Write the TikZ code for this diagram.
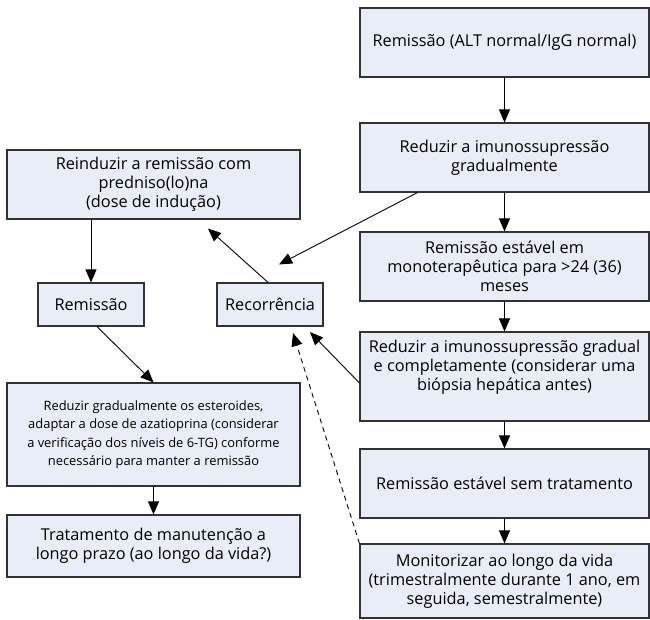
\documentclass[tikz,border=0pt]{standalone}
\usepackage{fontspec}
\setmainfont{Open Sans}
\usetikzlibrary{arrows.meta}
\definecolor{boxfill}{RGB}{233,237,248}
\definecolor{boxline}{RGB}{50,50,50}
\tikzset{
  x=1pt, y=-1pt,
  box/.style={draw=boxline, line width=1.1pt, fill=boxfill, align=center, inner sep=2pt,
    font=\fontsize{16.3}{18.8}\selectfont},
  smallbox/.style={box, font=\fontsize{12.9}{18.3}\selectfont},
  arr/.style={draw=black, line width=0.9pt, -{Triangle[length=13pt,width=11pt]}},
  darr/.style={arr, dashed, dash pattern=on 5pt off 4pt}
}
\begin{document}
\begin{tikzpicture}
\useasboundingbox (0,0) rectangle (650,619);
% right column
\node[box, minimum width=289pt, minimum height=69pt] (b1) at (504.5,42.5) {Remissão (ALT normal/IgG normal)};
\node[box, minimum width=289pt, minimum height=69pt] (b2) at (504.5,157.5) {Reduzir a imunossupressão\\gradualmente};
\node[box, minimum width=289pt, minimum height=69pt] (b3) at (504.5,266.5) {Remissão estável em\\monoterapêutica para >24 (36)\\meses};
\node[box, minimum width=289pt, minimum height=89pt] (b4) at (504.5,376.5) {Reduzir a imunossupressão gradual\\e completamente (considerar uma\\biópsia hepática antes)\\[4pt]};
\node[box, minimum width=289pt, minimum height=69pt] (b5) at (504.5,483.5) {Remissão estável sem tratamento};
\node[box, minimum width=289pt, minimum height=74pt] (b6) at (504.5,581) {Monitorizar ao longo da vida\\(trimestralmente durante 1 ano, em\\seguida, semestralmente)};
% left column
\node[box, minimum width=293pt, minimum height=69pt] (re) at (153.5,184.5) {Reinduzir a remissão com\\predniso(lo)na\\(dose de indução)};
\node[box, minimum width=106pt, minimum height=43pt] (rem) at (91,304.5) {Remissão};
\node[box, minimum width=106pt, minimum height=43pt] (rec) at (270,304.5) {Recorrência};
\node[smallbox, minimum width=293pt, minimum height=103pt] (st) at (153.5,434.5) {Reduzir gradualmente os esteroides,\\adaptar a dose de azatioprina (considerar\\a verificação dos níveis de 6-TG) conforme\\necessário para manter a remissão};
\node[box, minimum width=293pt, minimum height=62pt] (tr) at (153.5,546) {Tratamento de manutenção a\\longo prazo (ao longo da vida?)};
% connectors
\draw[arr] (b1) -- (b2);
\draw[arr] (b2) -- (b3);
\draw[arr] (b3) -- (b4);
\draw[arr] (b4) -- (b5);
\draw[arr] (b5) -- (b6);
\draw[arr] (re.south -| rem.north) -- (rem.north);
\draw[arr] ([xshift=6pt]rem.south) -- (st.north);
\draw[arr] (st) -- (tr);
\draw[arr] ([xshift=-2pt]rec.north) -- ([xshift=54.5pt,yshift=-9pt]re.south);
\draw[arr] ([xshift=58pt]b2.south west) -- ([xshift=9pt,yshift=18pt]rec.north);
\draw[arr] ([yshift=-6.5pt]b4.west) -- ([xshift=40pt,yshift=-5.5pt]rec.south);
\draw[darr] (b6.north west) -- ([xshift=23pt,yshift=-6.5pt]rec.south);
\end{tikzpicture}
\end{document}
